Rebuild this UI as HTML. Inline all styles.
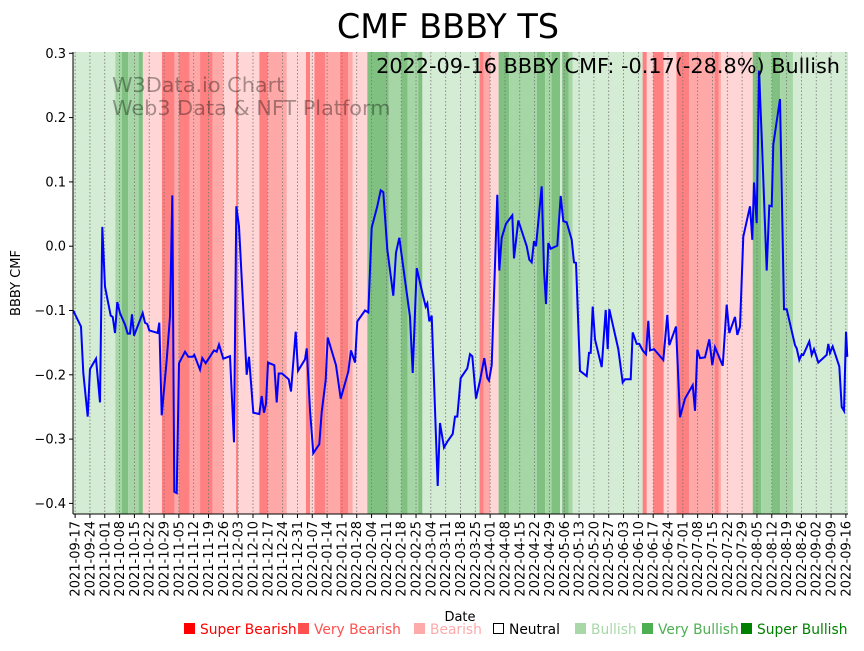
<!DOCTYPE html>
<html><head><meta charset="utf-8"><style>
body{margin:0;background:#fff;}
svg text{font-family:"DejaVu Sans","Liberation Sans",sans-serif;}
</style></head><body>
<svg id="chart" width="864" height="646" xmlns="http://www.w3.org/2000/svg">
<text x="448" y="38" font-size="33.5" text-anchor="middle">CMF BBBY TS</text>
<g id="bands"></g>
<g id="grid"></g>
<text x="112" y="92" font-size="20.8" fill="#000" fill-opacity="0.35">W3Data.io Chart</text>
<text x="112" y="115" font-size="20.8" fill="#000" fill-opacity="0.35">Web3 Data &amp; NFT Platform</text>
<path id="line" fill="none" stroke="#0000ff" stroke-width="2"/>
<text x="840" y="73" font-size="20.8" text-anchor="end">2022-09-16 BBBY CMF: -0.17(-28.8%) Bullish</text>
<g id="axes"></g>
<text transform="translate(20,283) rotate(-90)" font-size="13" text-anchor="middle">BBBY CMF</text>
<text x="460" y="621" font-size="13" text-anchor="middle">Date</text>
<g font-size="13.8">
<g><rect x="184" y="623" width="11" height="11" fill="#ff0000"/><text x="200" y="634" fill="#ff0000">Super Bearish</text></g>
<g><rect x="298" y="623" width="11" height="11" fill="#ff5050"/><text x="314" y="634" fill="#ff5050">Very Bearish</text></g>
<g><rect x="414" y="623" width="11" height="11" fill="#ffaaaa"/><text x="430" y="634" fill="#ffaaaa">Bearish</text></g>
<g><rect x="493.5" y="623.5" width="10" height="10" fill="none" stroke="#000"/><text x="509" y="634" fill="#000">Neutral</text></g>
<g><rect x="575" y="623" width="11" height="11" fill="#a8d8a8"/><text x="591" y="634" fill="#a8d8a8">Bullish</text></g>
<g><rect x="642" y="623" width="11" height="11" fill="#4caf50"/><text x="658" y="634" fill="#4caf50">Very Bullish</text></g>
<g><rect x="741" y="623" width="11" height="11" fill="#008000"/><text x="757" y="634" fill="#008000">Super Bullish</text></g>
</g>
</svg>
<script>
// day offsets from 2021-09-17
const days=[-0.9,2.78,3.86,5.94,7.03,9.86,11.75,12.84,14.11,16.8,17.75,18.83,19.92,21.2,23.56,24.83,25.92,26.86,27.81,31.92,33.0,34.09,35.03,39.0,39.76,40.89,43.25,44.81,45.89,46.84,47.97,49.06,51.89,53.45,55.53,56.28,58.98,60.06,61.67,65.59,66.86,67.95,69.98,73.14,75.03,76.12,77.39,81.03,82.12,84.15,86.98,88.11,89.2,90.15,91.09,94.07,95.2,96.14,97.7,100.87,101.95,104.17,105.26,108.56,109.37,110.92,112.48,115.32,116.45,118.34,119.28,123.2,125.42,129.01,130.29,132.18,133.26,134.54,136.9,138.46,140.06,142.71,144.31,145.54,147.43,150.26,151.54,153.1,158.15,159.43,161.31,164.15,165.57,166.32,167.27,168.4,171.23,172.32,174.21,175.77,178.32,179.4,180.49,182.1,185.21,186.49,187.57,189.32,191.21,193.24,194.66,195.46,196.74,199.38,200.33,201.46,203.49,206.46,207.27,209.3,213.26,214.49,215.63,216.71,217.66,220.35,221.43,222.38,223.46,224.6,227.71,229.32,230.55,232.15,234.51,235.6,236.54,238.43,241.6,242.68,243.49,244.43,245.52,248.68,250.57,251.51,252.27,256.52,258.6,259.69,262.38,263.32,265.21,266.44,268.05,269.6,270.69,271.49,273.38,277.77,279.66,280.61,283.77,285.66,288.02,291.66,292.75,293.83,295.11,297.47,299.5,300.92,302.19,305.83,307.71,308.94,311.63,312.72,313.99,315.55,318.72,319.8,320.61,321.88,322.97,324.24,326.6,327.83,328.96,329.72,332.88,334.77,336.05,339.97,340.77,342.0,343.13,343.88,346.72,347.85,348.94,350.97,354.93,355.69,356.5,357.77,360.89,362.02,363.11,364.06,364.67];
const cmf=[-0.10,-0.125,-0.197,-0.265,-0.191,-0.175,-0.243,0.03,-0.063,-0.108,-0.11,-0.135,-0.087,-0.104,-0.122,-0.136,-0.136,-0.106,-0.139,-0.104,-0.119,-0.121,-0.131,-0.135,-0.119,-0.263,-0.177,-0.109,0.079,-0.382,-0.384,-0.182,-0.164,-0.172,-0.172,-0.169,-0.192,-0.174,-0.182,-0.162,-0.164,-0.153,-0.175,-0.171,-0.305,0.062,0.031,-0.2,-0.172,-0.259,-0.261,-0.233,-0.259,-0.245,-0.181,-0.185,-0.243,-0.198,-0.198,-0.207,-0.226,-0.133,-0.194,-0.176,-0.159,-0.255,-0.322,-0.308,-0.258,-0.208,-0.142,-0.185,-0.237,-0.195,-0.162,-0.181,-0.117,-0.111,-0.100,-0.103,0.029,0.062,0.087,0.084,-0.005,-0.077,-0.010,0.013,-0.110,-0.197,-0.034,-0.075,-0.094,-0.089,-0.117,-0.108,-0.373,-0.275,-0.313,-0.304,-0.292,-0.265,-0.265,-0.205,-0.190,-0.168,-0.171,-0.237,-0.209,-0.174,-0.205,-0.209,-0.185,0.080,-0.038,0.013,0.035,0.048,-0.019,0.040,0.000,-0.021,-0.025,0.008,0.000,0.093,-0.037,-0.090,0.005,-0.004,0.001,0.078,0.039,0.037,0.010,-0.025,-0.026,-0.194,-0.202,-0.166,-0.166,-0.094,-0.145,-0.188,-0.099,-0.160,-0.098,-0.160,-0.212,-0.207,-0.207,-0.134,-0.152,-0.152,-0.162,-0.168,-0.116,-0.162,-0.160,-0.177,-0.107,-0.154,-0.125,-0.266,-0.237,-0.216,-0.256,-0.161,-0.174,-0.173,-0.145,-0.185,-0.157,-0.186,-0.091,-0.135,-0.110,-0.138,-0.125,0.015,0.062,0.010,0.099,0.036,0.273,0.171,-0.038,0.063,0.062,0.158,0.229,-0.098,-0.098,-0.154,-0.159,-0.177,-0.168,-0.169,-0.148,-0.169,-0.160,-0.181,-0.169,-0.152,-0.166,-0.156,-0.187,-0.250,-0.256,-0.133,-0.172];
// signal bands: start day, end day, level (-3..3)
const bandStart=[-1,19,22,25,30,32,41,47,49,54,59,65,70,76,77,87,91,100,109,111,113,118,125,129,131,138,148,154,157,162,164,191,193,196,200,205,207,218,222,225,229,230,233,235,268,270,273,278,284,290,302,304,305,320,324,329,333,339];
const bandEnd=[19,22,25,30,32,41,47,49,54,59,65,70,76,77,87,91,100,109,111,113,118,125,129,131,138,148,154,157,162,164,191,193,196,200,205,207,218,222,225,229,230,233,235,268,270,273,278,284,290,302,304,305,320,324,329,333,339,365];
const bandLevel=[1,2,3,2,3,-1,-3,-2,-3,-2,-3,-2,-1,-3,-1,-3,-2,-1,-3,-1,-3,-2,-3,-2,-1,3,2,3,2,3,1,-3,-2,-1,3,2,2,3,2,3,1,3,2,1,-3,-1,-3,-1,-3,-2,-3,-2,-1,3,2,3,2,1];
const yTicks=[0.3,0.2,0.1,0.0,-0.1,-0.2,-0.3,-0.4];
const yTickLabels=["0.3","0.2","0.1","0.0","\u22120.1","\u22120.2","\u22120.3","\u22120.4"];

const L=73,R=848,T=52,B=514;
const xs=d=>L+(d+1)*(R-L)/366;
const ys=v=>246.2-v*643;
const NS='http://www.w3.org/2000/svg';
function mk(tag,attrs,parent){const e=document.createElementNS(NS,tag);for(const k in attrs)e.setAttribute(k,attrs[k]);parent.appendChild(e);return e;}
const colors={'-3':'#ff8080','-2':'#ffa8a8','-1':'#ffd5d5','1':'#d4ebd4','2':'#a6d6a6','3':'#80c080'};
const bandsG=document.getElementById('bands');
for(let i=0;i<bandStart.length;i++){
  const r=mk('rect',{x:Math.max(L,xs(bandStart[i])),y:T,width:Math.min(R,xs(bandEnd[i]))-Math.max(L,xs(bandStart[i])),height:B-T,fill:colors[bandLevel[i]]},bandsG);
  
  
}
const grid=document.getElementById('grid'),axes=document.getElementById('axes');
const start=new Date(Date.UTC(2021,8,17));
for(let w=0;w<=52;w++){
  const d=w*7;const x=xs(d);
  const dt=new Date(start.getTime()+d*86400000);
  const lab=dt.toISOString().slice(0,10);
  const g=mk('line',{x1:x,y1:T,x2:x,y2:B,stroke:'#777','stroke-width':0.8,'stroke-dasharray':'1.5,2'},grid);
  
  
  const t=mk('line',{x1:x,y1:B,x2:x,y2:B+4,stroke:'#000','stroke-width':1},axes);
  
  
  const tx=mk('text',{transform:`translate(${x+4.5},${B+7}) rotate(-90)`,'font-size':13,'text-anchor':'end'},axes);
  tx.textContent=lab;
  
  
}
yTicks.forEach((v,i)=>{
  const y=ys(v);
  const t=mk('line',{x1:L-4,y1:y,x2:L,y2:y,stroke:'#000','stroke-width':1},axes);
  
  
  const tx=mk('text',{x:L-7,y:y+4.5,'font-size':13,'text-anchor':'end'},axes);
  tx.textContent=yTickLabels[i];
  
  
});
const sp1=mk('line',{x1:L,y1:T,x2:L,y2:B,stroke:'#000','stroke-width':1},axes);


const sp2=mk('line',{x1:L,y1:B,x2:R,y2:B,stroke:'#000','stroke-width':1},axes);


document.getElementById('line').setAttribute('d',days.map((d,i)=>(i?'L':'M')+Math.max(L,xs(d)).toFixed(1)+','+ys(cmf[i]).toFixed(1)).join(''));
</script>
</body></html>
